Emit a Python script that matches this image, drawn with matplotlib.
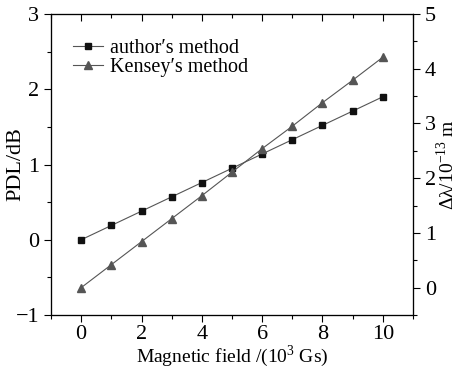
import matplotlib
matplotlib.use("Agg")
import matplotlib.pyplot as plt
from matplotlib.ticker import MultipleLocator

plt.rcParams['font.family'] = ['Liberation Serif', 'DejaVu Serif']
plt.rcParams['mathtext.fontset'] = 'custom'
plt.rcParams['mathtext.rm'] = 'Liberation Serif'

# Data
field = [0, 1, 2, 3, 4, 5, 6, 7, 8, 9, 10]
pdl_author = [0.0, 0.19, 0.38, 0.57, 0.76, 0.95, 1.14, 1.33, 1.52, 1.71, 1.90]
dlambda_kensey = [0.0, 0.42, 0.84, 1.26, 1.68, 2.11, 2.54, 2.95, 3.38, 3.79, 4.21]

fig = plt.figure(figsize=(4.58, 3.70), dpi=100)
ax = fig.add_axes([0.1114, 0.1486, 0.7903, 0.8136])
ax2 = ax.twinx()
ax3 = ax.twiny()  # only for the inward top ticks

line_col = '#555555'
l1, = ax.plot(field, pdl_author, color=line_col, lw=0.8, marker='s', ms=4.5,
              mfc='#111111', mec='#111111', label="author\u2032s method")
l2, = ax2.plot(field, dlambda_kensey, color=line_col, lw=0.8, marker='^', ms=5.5,
               mfc='#555555', mec='#555555', label="Kensey\u2032s method")

ax.set_xlim(-1, 11)
ax3.set_xlim(-1, 11)
ax.set_ylim(-1, 3)
ax2.set_ylim(-0.5, 5)

for a in (ax.xaxis, ax3.xaxis):
    a.set_major_locator(MultipleLocator(2))
    a.set_minor_locator(MultipleLocator(1))
for a in (ax.yaxis, ax2.yaxis):
    a.set_major_locator(MultipleLocator(1))
    a.set_minor_locator(MultipleLocator(0.5))

for a in (ax, ax2):
    a.tick_params(which='both', direction='out', labelsize=16, width=0.8)
    a.tick_params(which='major', length=5)
    a.tick_params(which='minor', length=3)
ax.tick_params(axis='x', pad=2)
ax3.tick_params(which='both', direction='in', width=0.8, labeltop=False)
ax3.tick_params(which='major', length=5)
ax3.tick_params(which='minor', length=3)

for a in (ax, ax2, ax3):
    for s in a.spines.values():
        s.set_linewidth(0.8)

ax.set_xlabel("Magnetic field /(10$^3$ Gs)", fontsize=14, labelpad=0)
ax.set_ylabel("PDL/dB", fontsize=16)
ax.yaxis.set_label_coords(-0.072, 0.5)
ax2.set_ylabel("\u0394\u03bb/10$^{-13}$ m", fontsize=14)
ax2.yaxis.set_label_coords(1.062, 0.5)

ax.legend([l1, l2], [l1.get_label(), l2.get_label()], loc='upper left',
          bbox_to_anchor=(0.038, 0.945), frameon=False, fontsize=14.5,
          handlelength=1.5, handletextpad=0.35, labelspacing=0.0,
          borderaxespad=0)

fig.savefig("out.png", dpi=100)
